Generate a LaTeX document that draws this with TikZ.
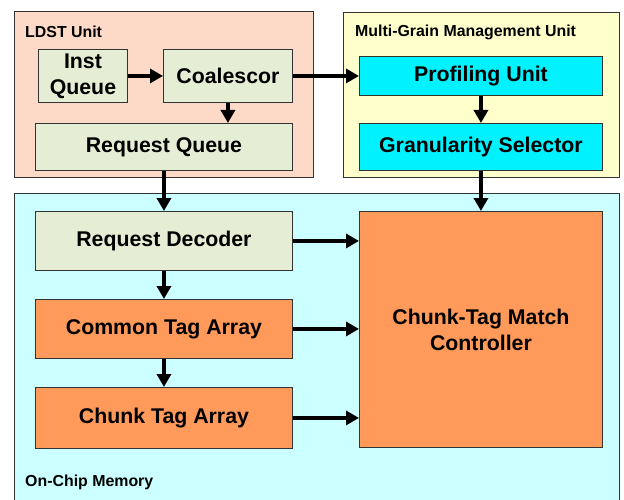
\documentclass[tikz,border=0pt]{standalone}
\usepackage{fontspec}
\setmainfont{Liberation Sans}
\usetikzlibrary{arrows.meta}
\definecolor{ldstfill}{HTML}{FDDAC8}
\definecolor{mgmfill}{HTML}{FFFFCC}
\definecolor{ocmfill}{HTML}{CCFFFF}
\definecolor{greenbox}{HTML}{E6EDD5}
\definecolor{orangebox}{HTML}{FF9A5A}
\definecolor{cyanbox}{HTML}{00F2FF}
\definecolor{edge}{HTML}{333333}
\tikzset{
  container/.style={draw=edge, line width=0.9pt},
  blk/.style={draw=edge, line width=0.9pt, anchor=north west, inner sep=0pt, align=center,
    font=\fontsize{21.3}{26}\selectfont\bfseries},
  gbox/.style={blk, fill=greenbox},
  obox/.style={blk, fill=orangebox},
  cbox/.style={blk, fill=cyanbox},
  lbl/.style={anchor=west, inner sep=0pt, font=\fontsize{15.9}{18}\selectfont\bfseries},
  arr/.style={line width=3.4pt, -{Triangle[length=13pt,width=14pt]}},
}
\begin{document}
\begin{tikzpicture}[x=1pt,y=-1pt]
\useasboundingbox (0,0) rectangle (624,500);
\clip (0,0) rectangle (624,500);
% containers
\draw[container, fill=ldstfill] (14,11) rectangle (313,177);
\draw[container, fill=mgmfill] (343,12) rectangle (619,177);
\draw[container, fill=ocmfill] (14,193) rectangle (619,515);
\node[lbl] (ldstlbl) at (25,32) {LDST Unit};
\node[lbl] (mgmlbl) at (355,32) {Multi-Grain Management Unit};
\node[lbl] (ocmlbl) at (25,482) {On-Chip Memory};
% blocks
\node[gbox, minimum width=89pt, minimum height=53pt] (inst) at (38,49) {Inst\\Queue};
\node[gbox, minimum width=129pt, minimum height=53pt] (coal) at (163,49) {Coalescor};
\node[gbox, minimum width=257pt, minimum height=47pt] (rq) at (35,123) {Request Queue};
\node[cbox, minimum width=243pt, minimum height=39pt] (pu) at (359,56) {Profiling Unit};
\node[cbox, minimum width=243pt, minimum height=47pt] (gs) at (359,123) {Granularity Selector};
\node[gbox, minimum width=257pt, minimum height=59pt] (rd) at (35,211) {Request Decoder};
\node[obox, minimum width=257pt, minimum height=59pt] (cta) at (35,299) {Common Tag Array};
\node[obox, minimum width=257pt, minimum height=61pt] (chta) at (35,387) {Chunk Tag Array};
\node[obox, minimum width=243pt, minimum height=236pt] (ctmc) at (359,211) {Chunk-Tag Match\\Controller};
% arrows
\draw[arr] (inst.east) -- (coal.west);
\draw[arr] (coal.east) -- (pu.west);
\draw[arr] (coal.south) -- (coal.south |- rq.north);
\draw[arr] (rq.south) -- (rd.north);
\draw[arr] (pu.south) -- (gs.north);
\draw[arr] (gs.south) -- (ctmc.north);
\draw[arr] (rd.south) -- (cta.north);
\draw[arr] (cta.south) -- (chta.north);
\draw[arr] (rd.east) -- (rd.east -| ctmc.west);
\draw[arr] (cta.east) -- (cta.east -| ctmc.west);
\draw[arr] (chta.east) -- (chta.east -| ctmc.west);
\end{tikzpicture}
\end{document}
